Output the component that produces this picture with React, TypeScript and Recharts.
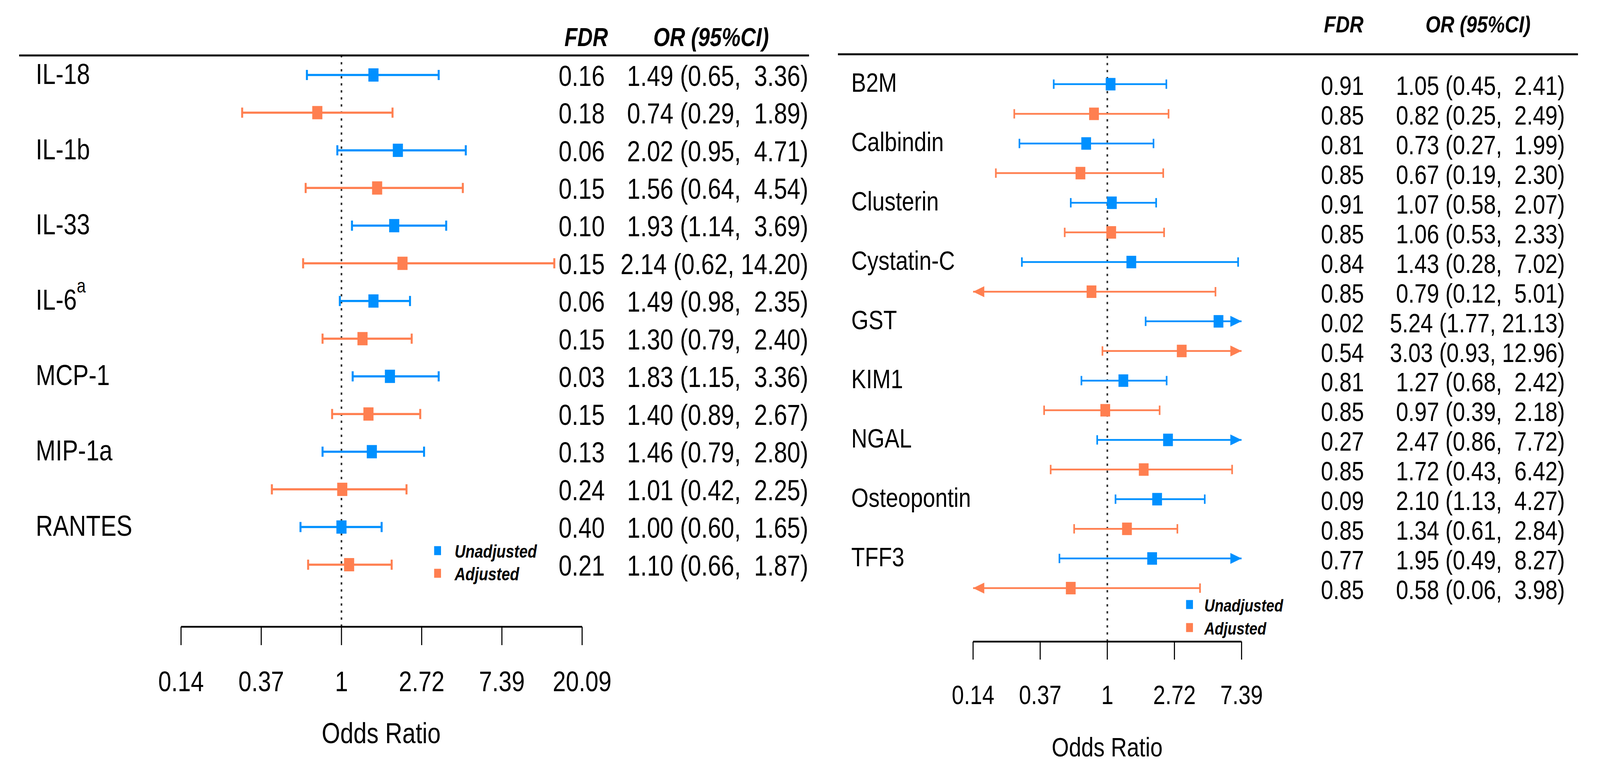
import React from "react"
import { ScatterChart, Scatter, XAxis, YAxis, ErrorBar, ReferenceLine } from "recharts"

const FONT = '"Liberation Sans", Arial, Helvetica, sans-serif'
const SQUEEZE = 0.89
const BLUE = "#0090FF"
const ORANGE = "#FF7F50"
const groupNames = ["Unadjusted", "Adjusted"]
const groupColors = [BLUE, ORANGE]

// left panel: cytokines
const cytoNames = ["IL-18", "IL-1b", "IL-33", "IL-6", "MCP-1", "MIP-1a", "RANTES"]
const cytoSup = ["", "", "", "a", "", "", ""]
const cytoUnadjOR = [1.49, 2.02, 1.93, 1.49, 1.83, 1.46, 1.0]
const cytoUnadjLo = [0.65, 0.95, 1.14, 0.98, 1.15, 0.79, 0.6]
const cytoUnadjHi = [3.36, 4.71, 3.69, 2.35, 3.36, 2.8, 1.65]
const cytoUnadjFdr = [0.16, 0.06, 0.1, 0.06, 0.03, 0.13, 0.4]
const cytoAdjOR = [0.74, 1.56, 2.14, 1.3, 1.4, 1.01, 1.1]
const cytoAdjLo = [0.29, 0.64, 0.62, 0.79, 0.89, 0.42, 0.66]
const cytoAdjHi = [1.89, 4.54, 14.2, 2.4, 2.67, 2.25, 1.87]
const cytoAdjFdr = [0.18, 0.15, 0.15, 0.15, 0.15, 0.24, 0.21]
const cytoTickLabels = ["0.14", "0.37", "1", "2.72", "7.39", "20.09"]

// right panel: kidney markers
const kidneyNames = ["B2M", "Calbindin", "Clusterin", "Cystatin-C", "GST", "KIM1", "NGAL", "Osteopontin", "TFF3"]
const kidneySup = ["", "", "", "", "", "", "", "", ""]
const kidneyUnadjOR = [1.05, 0.73, 1.07, 1.43, 5.24, 1.27, 2.47, 2.1, 1.95]
const kidneyUnadjLo = [0.45, 0.27, 0.58, 0.28, 1.77, 0.68, 0.86, 1.13, 0.49]
const kidneyUnadjHi = [2.41, 1.99, 2.07, 7.02, 21.13, 2.42, 7.72, 4.27, 8.27]
const kidneyUnadjFdr = [0.91, 0.81, 0.91, 0.84, 0.02, 0.81, 0.27, 0.09, 0.77]
const kidneyAdjOR = [0.82, 0.67, 1.06, 0.79, 3.03, 0.97, 1.72, 1.34, 0.58]
const kidneyAdjLo = [0.25, 0.19, 0.53, 0.12, 0.93, 0.39, 0.43, 0.61, 0.06]
const kidneyAdjHi = [2.49, 2.3, 2.33, 5.01, 12.96, 2.18, 6.42, 2.84, 3.98]
const kidneyAdjFdr = [0.85, 0.85, 0.85, 0.85, 0.54, 0.85, 0.85, 0.85, 0.85]
const kidneyTickLabels = ["0.14", "0.37", "1", "2.72", "7.39"]

function buildRows(uOR, uLo, uHi, uFdr, aOR, aLo, aHi, aFdr) {
  const rows = []
  uOR.forEach((_, k) => {
    rows.push({ y: 2 * k, group: 0, or: uOR[k], lo: uLo[k], hi: uHi[k], fdr: uFdr[k] })
    rows.push({ y: 2 * k + 1, group: 1, or: aOR[k], lo: aLo[k], hi: aHi[k], fdr: aFdr[k] })
  })
  return rows
}

const orText = (r) => `${r.or.toFixed(2)} (${r.lo.toFixed(2)}, ${r.hi.toFixed(2).padStart(5, " ")})`

function SText({ x, y, size, anchor = "start", bold = false, italic = false, children }) {
  return (
    <text
      transform={`translate(${x},${y}) scale(${SQUEEZE},1)`}
      fontFamily={FONT}
      fontSize={size}
      textAnchor={anchor}
      fontWeight={bold ? "bold" : "normal"}
      fontStyle={italic ? "italic" : "normal"}
      fill="#000"
      style={{ whiteSpace: "pre" }}
    >
      {children}
    </text>
  )
}

const W = 4428
const H = 1982

function ForestPanel({ names, sup, rows, tickLabels, g }) {
  const xMin = -2
  const xMax = xMin + tickLabels.length - 1
  const tickValues = tickLabels.map((_, i) => xMin + i)

  const points = [0, 1].map((grp) =>
    rows
      .filter((r) => r.group === grp)
      .map((r) => {
        const x = Math.log(r.or)
        const l = Math.max(Math.log(r.lo), xMin)
        const h = Math.min(Math.log(r.hi), xMax)
        return { x, y: r.y, err: [x - l, h - x] }
      }),
  )
  const caps = rows.flatMap((r) => {
    const out = []
    const c = groupColors[r.group]
    if (Math.log(r.lo) >= xMin) out.push({ x: Math.log(r.lo), y: r.y, color: c })
    if (Math.log(r.hi) <= xMax) out.push({ x: Math.log(r.hi), y: r.y, color: c })
    return out
  })
  const arrows = rows.flatMap((r) => {
    const out = []
    const c = groupColors[r.group]
    if (Math.log(r.lo) < xMin) out.push({ x: xMin, y: r.y, dir: -1, color: c })
    if (Math.log(r.hi) > xMax) out.push({ x: xMax, y: r.y, dir: 1, color: c })
    return out
  })

  const yLeftW = 400
  const yRightW = 600

  const nameTick = (p) => {
    const k = Math.round(p.payload.value / 2)
    return (
      <g>
        <SText x={g.nameX} y={p.y + 0.36 * g.font + g.nameDy} size={g.font}>
          {names[k]}
          {sup[k] ? (
            <tspan dy={-0.6 * g.font} fontSize={g.font * 0.68}>
              {sup[k]}
            </tspan>
          ) : null}
        </SText>
      </g>
    )
  }

  const valueTick = (p) => {
    const r = rows[p.payload.value]
    const by = p.y + 0.36 * g.font + g.valueDy
    return (
      <g>
        <SText x={g.fdrX} y={by} size={g.font} anchor="end">
          {r.fdr.toFixed(2)}
        </SText>
        <SText x={g.orX} y={by} size={g.font} anchor="end">
          {orText(r)}
        </SText>
      </g>
    )
  }

  const xTick = (p) => (
    <g>
      <SText x={p.x} y={p.y + 0.72 * g.tickFont} size={g.tickFont} anchor="middle">
        {tickLabels[p.payload.value - xMin]}
      </SText>
    </g>
  )

  const square = (p) => (
    <rect
      x={p.cx - g.sq[0] / 2}
      y={p.cy - g.sq[1] / 2}
      width={g.sq[0]}
      height={g.sq[1]}
      fill={p.fill}
    />
  )
  const cap = (p) => (
    <line
      x1={p.cx}
      x2={p.cx}
      y1={p.cy - g.capH / 2}
      y2={p.cy + g.capH / 2}
      stroke={p.payload.color}
      strokeWidth={g.lineW}
    />
  )
  const arrow = (p) => {
    const d = p.payload.dir
    const L = g.arrow[0]
    const A = g.arrow[1] / 2
    return (
      <polygon
        points={`${p.cx},${p.cy} ${p.cx - d * L},${p.cy - A} ${p.cx - d * L},${p.cy + A}`}
        fill={p.payload.color}
      />
    )
  }

  return (
    <>
      <div style={{ position: "absolute", left: 0, top: 0 }}>
        <ScatterChart
          width={W}
          height={H}
          margin={{
            top: g.plotTop,
            bottom: 0,
            left: g.plotLeft - yLeftW,
            right: W - g.plotRight - yRightW,
          }}
        >
          <XAxis
            type="number"
            dataKey="x"
            domain={[xMin, xMax]}
            ticks={tickValues}
            allowDataOverflow
            height={H - g.axisY}
            tickSize={g.tickSize}
            tickMargin={g.tickMargin}
            axisLine={{ stroke: "#000", strokeWidth: 4.5 }}
            tickLine={{ stroke: "#000", strokeWidth: 3 }}
            tick={xTick}
            interval={0}
          />
          <YAxis
            yAxisId="l"
            type="number"
            dataKey="y"
            domain={g.yDomain}
            reversed
            allowDataOverflow
            width={yLeftW}
            ticks={names.map((_, k) => 2 * k)}
            interval={0}
            axisLine={false}
            tickLine={false}
            tick={nameTick}
          />
          <YAxis
            yAxisId="r"
            orientation="right"
            type="number"
            dataKey="y"
            domain={g.yDomain}
            reversed
            allowDataOverflow
            width={yRightW}
            ticks={rows.map((r) => r.y)}
            interval={0}
            axisLine={false}
            tickLine={false}
            tick={valueTick}
          />
          <ReferenceLine x={0} yAxisId="l" stroke="#333" strokeWidth={4.5} strokeDasharray="6 12" />
          {[0, 1].map((grp) => (
            <Scatter
              key={grp}
              yAxisId="l"
              name={groupNames[grp]}
              data={points[grp]}
              fill={groupColors[grp]}
              shape={square}
              isAnimationActive={false}
            >
              <ErrorBar
                dataKey="err"
                direction="x"
                width={0}
                stroke={groupColors[grp]}
                strokeWidth={g.lineW}
                isAnimationActive={false}
              />
            </Scatter>
          ))}
          <Scatter yAxisId="l" data={caps} shape={cap} isAnimationActive={false} />
          <Scatter yAxisId="l" data={arrows} shape={arrow} isAnimationActive={false} />
        </ScatterChart>
      </div>
      <svg
        width={W}
        height={H}
        style={{ position: "absolute", left: 0, top: 0, pointerEvents: "none" }}
      >
        <line x1={g.ruleX[0]} x2={g.ruleX[1]} y1={g.plotTop} y2={g.plotTop} stroke="#000" strokeWidth={5} />
        <SText x={g.headFdrX} y={g.headY} size={g.headFont} bold italic>
          FDR
        </SText>
        <SText x={g.headOrX} y={g.headY} size={g.headFont} bold italic>
          OR (95%CI)
        </SText>
        <SText x={g.titleX} y={g.titleY} size={g.titleFont} anchor="middle">
          Odds Ratio
        </SText>
        {groupNames.map((n, i) => (
          <g key={n}>
            <rect
              x={g.legX - 9.5}
              y={g.legY[i] - 11.5}
              width={19}
              height={23}
              fill={groupColors[i]}
            />
            <SText x={g.legTextX} y={g.legY[i] + g.legBase} size={g.legFont} bold italic>
              {n}
            </SText>
          </g>
        ))}
      </svg>
    </>
  )
}

const cytoRows = buildRows(
  cytoUnadjOR, cytoUnadjLo, cytoUnadjHi, cytoUnadjFdr,
  cytoAdjOR, cytoAdjLo, cytoAdjHi, cytoAdjFdr,
)
const kidneyRows = buildRows(
  kidneyUnadjOR, kidneyUnadjLo, kidneyUnadjHi, kidneyUnadjFdr,
  kidneyAdjOR, kidneyAdjLo, kidneyAdjHi, kidneyAdjFdr,
)

const leftGeom = {
  plotLeft: 501, plotRight: 1611, plotTop: 142, axisY: 1605,
  yDomain: [-0.518, 14.648],
  nameX: 99, nameDy: -4, valueDy: 1, fdrX: 1674, orX: 2237, font: 74,
  tickSize: 47, tickMargin: 65, tickFont: 73,
  sq: [28, 34], lineW: 5.5, capH: 26, arrow: [31, 28],
  ruleX: [53, 2239], headFdrX: 1562, headOrX: 1808, headY: 118, headFont: 66,
  titleX: 1055, titleY: 1903, titleFont: 74,
  legX: 1211, legY: [1410, 1468], legTextX: 1258, legBase: 18, legFont: 47,
}

const rightGeom = {
  plotLeft: 2693, plotRight: 3436, plotTop: 139, axisY: 1643,
  yDomain: [-1.009, 18.805],
  nameX: 2356, nameDy: -5, valueDy: 3, fdrX: 3775, orX: 4331, font: 69,
  tickSize: 46, tickMargin: 65, tickFont: 68,
  sq: [27, 32], lineW: 4.5, capH: 24, arrow: [31, 28],
  ruleX: [2319, 4367], headFdrX: 3664, headOrX: 3945, headY: 83, headFont: 60,
  titleX: 3064, titleY: 1937, titleFont: 69,
  legX: 3292, legY: [1548, 1607], legTextX: 3333, legBase: 18, legFont: 45,
}

export default function App() {
  // the browser window may be narrower than the figure: stretch the fixed-size figure onto it
  const vw = typeof window !== "undefined" ? window.innerWidth : W
  const vh = typeof window !== "undefined" ? window.innerHeight : H
  const sx = Math.min(vw / W, 1)
  const sy = Math.min(vh / H, 1)
  if (typeof document !== "undefined") {
    document.documentElement.style.overflow = "hidden"
    document.body.style.margin = "0"
  }
  return (
    <div
      style={{
        position: "absolute",
        left: 0,
        top: 0,
        width: W,
        height: H,
        background: "#fff",
        transform: `scale(${sx}, ${sy})`,
        transformOrigin: "0 0",
      }}
    >
      <ForestPanel names={cytoNames} sup={cytoSup} rows={cytoRows} tickLabels={cytoTickLabels} g={leftGeom} />
      <ForestPanel names={kidneyNames} sup={kidneySup} rows={kidneyRows} tickLabels={kidneyTickLabels} g={rightGeom} />
    </div>
  )
}
